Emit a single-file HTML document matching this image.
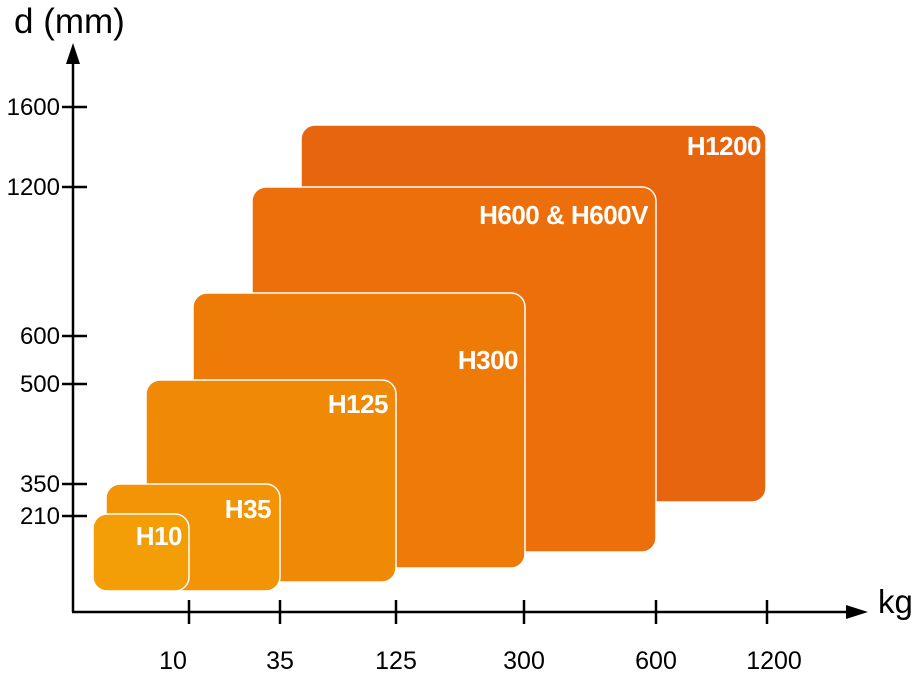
<!DOCTYPE html>
<html><head><style>
html,body{margin:0;padding:0;background:#fff;}
svg{display:block;}
.l{font-family:"Liberation Sans",sans-serif;font-weight:bold;fill:#fff;font-size:26px;text-anchor:end;letter-spacing:-0.5px;}
.t{font-family:"Liberation Sans",sans-serif;fill:#000;font-size:24px;}
</style></head><body>
<svg width="920" height="676" viewBox="0 0 920 676">
<g stroke="#fff" stroke-width="1.5">
<rect x="301" y="125" width="465" height="377" rx="14" fill="#e8650f"/>
<rect x="252" y="187" width="404" height="365" rx="14" fill="#ec6f0c"/>
<rect x="193" y="293" width="332" height="275" rx="14" fill="#ee7a08"/>
<rect x="146" y="380" width="250" height="202" rx="14" fill="#f08a06"/>
<rect x="106" y="484" width="174" height="107" rx="14" fill="#f29405"/>
<rect x="93" y="514" width="96" height="77" rx="14" fill="#f39e06"/>
</g>
<text class="l" x="761" y="155">H1200</text>
<text class="l" x="648" y="224">H600 &amp; H600V</text>
<text class="l" x="518" y="369">H300</text>
<text class="l" x="388" y="413">H125</text>
<text class="l" x="271" y="518">H35</text>
<text class="l" x="182" y="545">H10</text>
<g stroke="#000" stroke-width="2.5" fill="none">
<line x1="73" y1="58" x2="73" y2="612"/>
<line x1="72" y1="612" x2="850" y2="612"/>
<line x1="62" y1="107" x2="87" y2="107"/>
<line x1="62" y1="187" x2="87" y2="187"/>
<line x1="62" y1="336" x2="87" y2="336"/>
<line x1="62" y1="384" x2="87" y2="384"/>
<line x1="62" y1="484" x2="87" y2="484"/>
<line x1="62" y1="516" x2="87" y2="516"/>
<line x1="189" y1="600" x2="189" y2="624"/>
<line x1="280" y1="600" x2="280" y2="624"/>
<line x1="396" y1="600" x2="396" y2="624"/>
<line x1="524" y1="600" x2="524" y2="624"/>
<line x1="656" y1="600" x2="656" y2="624"/>
<line x1="767" y1="600" x2="767" y2="624"/>
</g>
<polygon points="73,43 66,64 80,64" fill="#000"/>
<polygon points="868,612 846,605 846,619" fill="#000"/>
<text class="t" x="14" y="33" style="font-size:35px">d (mm)</text>
<text class="t" x="878" y="613" style="font-size:33px">kg</text>
<g class="t" text-anchor="end">
<text x="60" y="115">1600</text>
<text x="60" y="195">1200</text>
<text x="60" y="344">600</text>
<text x="60" y="392">500</text>
<text x="60" y="492">350</text>
<text x="60" y="524">210</text>
</g>
<g class="t" text-anchor="middle" style="font-size:25px">
<text x="173" y="669">10</text>
<text x="280" y="669">35</text>
<text x="396" y="669">125</text>
<text x="524" y="669">300</text>
<text x="656" y="669">600</text>
<text x="774" y="669">1200</text>
</g>
</svg>
</body></html>
